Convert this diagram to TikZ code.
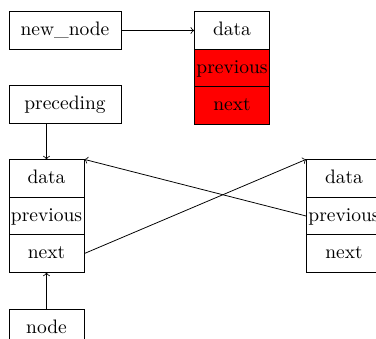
\documentclass[tikz,border=0pt]{standalone}
\begin{document}
\begin{tikzpicture}[x=0.513pt,y=-0.513pt,
  box/.style={draw,rectangle,inner sep=0pt,minimum height=19.2pt,text height=1.5ex,text depth=.25ex},
  widebox/.style={box,minimum width=57.5pt},
  cell/.style={box,minimum width=38.5pt},
  redcell/.style={cell,fill=red},
  arr/.style={->}]
\useasboundingbox (0,0) rectangle (376,338);
\clip (0,0) rectangle (376,338);
\node[widebox] (newnode) at (65,30.5) {new\_node};
\node[cell] (tdata) at (232,30.5) {data};
\node[redcell] (tprev) at (232,68) {previous};
\node[redcell] (tnext) at (232,105.5) {next};
\node[widebox] (preceding) at (65,104.5) {preceding};
\node[cell] (ldata) at (46.5,178.5) {data};
\node[cell] (lprev) at (46.5,216) {previous};
\node[cell] (lnext) at (46.5,253.5) {next};
\node[cell] (rdata) at (344,178.5) {data};
\node[cell] (rprev) at (344,216) {previous};
\node[cell] (rnext) at (344,253.5) {next};
\node[cell] (node) at (46.5,328) {node};
\draw[arr] (newnode.east) -- (tdata.west);
\draw[arr] (ldata.north |- preceding.south) -- (ldata.north);
\draw[arr] (node.north) -- (lnext.south);
\draw[arr] (lnext.east) -- (rdata.north west);
\draw[arr] (rprev.west) -- (ldata.north east);
\end{tikzpicture}
\end{document}
